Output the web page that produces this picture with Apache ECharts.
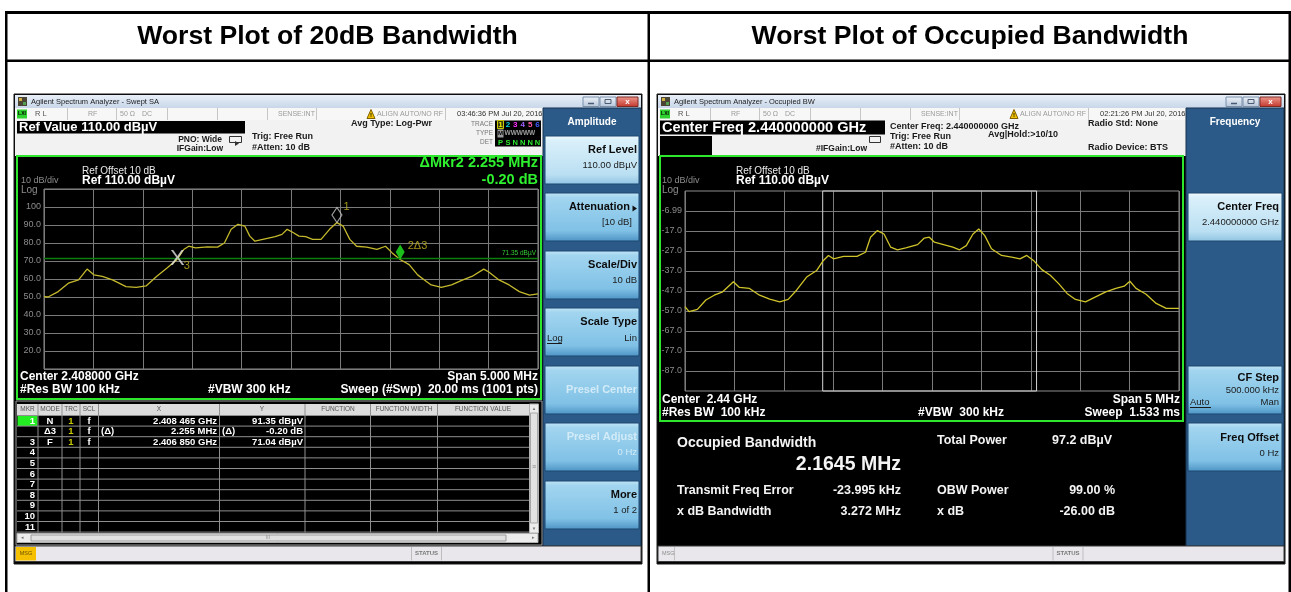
<!DOCTYPE html>
<html><head><meta charset="utf-8">
<script src="https://cdn.jsdelivr.net/npm/echarts@6/dist/echarts.min.js"></script>
<style>html,body{margin:0;padding:0;background:#fff;overflow:hidden}#c{width:1291px;height:592px}</style>
</head><body><div id="c"></div>
<script>
// ---------------- DATA ----------------
// Left: 20 dB bandwidth trace (frequency MHz, level dBµV)
const leftFreqMHz = [2405.500,2405.541,2405.644,2405.747,2405.850,2405.936,2406.004,2406.090,2406.193,2406.330,2406.433,2406.536,2406.639,2406.742,2406.850,2406.914,2406.965,2407.034,2407.154,2407.257,2407.326,2407.394,2407.463,2407.532,2407.583,2407.635,2407.737,2407.840,2407.909,2407.961,2408.012,2408.081,2408.149,2408.218,2408.304,2408.390,2408.465,2408.527,2408.595,2408.664,2408.767,2408.870,2408.956,2409.024,2409.105,2409.196,2409.282,2409.350,2409.419,2409.522,2409.625,2409.728,2409.831,2409.951,2410.002,2410.105,2410.208,2410.311,2410.414,2410.500];
const leftLevel = [50.2,50.0,53.0,57.7,59.5,65.5,62.3,61.4,59.5,55.8,55.4,56.2,61.4,66.0,71.0,76.4,78.2,77.3,77.9,77.7,80.0,87.6,90.4,89.4,83.8,81.0,82.3,83.5,84.8,87.6,86.1,83.8,83.5,82.0,82.0,87.6,91.35,89.4,82.0,78.2,77.7,76.4,78.2,74.5,70.84,68.0,62.3,59.5,56.7,55.4,56.7,59.2,61.4,65.5,63.9,59.5,56.7,53.0,51.1,51.7];
const leftYTickValues = [100,90,80,70,60,50,40,30,20];
const leftYTickLabels = ['100','90.0','80.0','70.0','60.0','50.0','40.0','30.0','20.0'];
const markerNames = ['1','2\u03943','3'];
const markerFreqMHz = [2408.465, 2409.105, 2406.850];
const markerLevel = [91.35, 70.84, 71.04];
const displayLineLevel = 71.35;

// Right: occupied bandwidth trace (frequency MHz, level as displayed)
const rightFreqMHz = [2437.500,2437.541,2437.626,2437.711,2437.796,2437.881,2437.990,2438.051,2438.153,2438.255,2438.357,2438.459,2438.544,2438.629,2438.731,2438.833,2438.901,2438.952,2439.003,2439.105,2439.241,2439.327,2439.378,2439.446,2439.514,2439.582,2439.650,2439.735,2439.854,2439.922,2439.973,2440.024,2440.126,2440.211,2440.279,2440.347,2440.415,2440.473,2440.534,2440.602,2440.704,2440.806,2440.891,2440.959,2441.027,2441.112,2441.197,2441.282,2441.367,2441.452,2441.554,2441.656,2441.759,2441.861,2441.946,2442.003,2442.065,2442.167,2442.269,2442.371,2442.500];
const rightLevel = [-54.8,-57.3,-56.2,-51.5,-49.1,-47.4,-42.4,-45.2,-45.7,-49.1,-51.0,-52.4,-51.2,-46.6,-40.0,-36.7,-31.7,-29.2,-30.9,-29.7,-29.7,-27.6,-20.1,-16.8,-18.5,-25.1,-26.4,-25.4,-23.8,-20.5,-20.1,-22.6,-23.9,-25.1,-26.4,-24.3,-18.5,-16.0,-19.3,-25.9,-29.2,-30.0,-30.9,-29.2,-31.7,-36.3,-39.1,-43.3,-48.2,-51.2,-52.4,-49.9,-47.4,-45.7,-44.6,-42.1,-45.7,-48.6,-53.2,-55.7,-55.7];
const rightYMin = -96.99, rightYMax = 3.01;
const rightYTickValues = [-6.99,-16.99,-26.99,-36.99,-46.99,-56.99,-66.99,-76.99,-86.99];
const rightYTickLabels = ['-6.99','-17.0','-27.0','-37.0','-47.0','-57.0','-67.0','-77.0','-87.0'];
const rightCenterMHz = 2440.0, obwMHz = 2.1645, freqErrorMHz = -0.023995;

const markerTableRows = [
  ['1','N','1','f','','2.408 465 GHz','','91.35 dB\u00b5V'],
  ['2','\u03943','1','f','(\u0394)','2.255 MHz','(\u0394)','-0.20 dB'],
  ['3','F','1','f','','2.406 850 GHz','','71.04 dB\u00b5V']
];

// ---------------- DRAW HELPERS ----------------
const FF = '"Liberation Sans", Arial, Helvetica, sans-serif';
const G = [];
let zc = 0;
function R(x,y,w,h,fill,stroke,lw,z){G.push({type:'rect',silent:true,z:z==null?-5:z,z2:zc++,shape:{x:x,y:y,width:w,height:h},style:{fill:fill||'rgba(0,0,0,0)',stroke:stroke||'rgba(0,0,0,0)',lineWidth:stroke?(lw||1):0}});}
function L(x1,y1,x2,y2,stroke,lw,z){G.push({type:'line',silent:true,z:z==null?-5:z,z2:zc++,shape:{x1:x1,y1:y1,x2:x2,y2:y2},style:{stroke:stroke,lineWidth:lw||1}});}
function P(pts,fill,stroke,z){G.push({type:'polygon',silent:true,z:z==null?-5:z,z2:zc++,shape:{points:pts},style:{fill:fill,stroke:stroke||'rgba(0,0,0,0)',lineWidth:stroke?1:0}});}
function T(x,y,s,size,color,o){o=o||{};G.push({type:'text',silent:true,z:o.z==null?10:o.z,z2:zc++,x:x,y:y,style:{text:s,fill:color,fontSize:size,fontWeight:o.b?'bold':'normal',fontFamily:FF,textAlign:o.a||'left',textVerticalAlign:'middle',align:o.a||'left',verticalAlign:'middle'}});}
function grad(stops){return {type:'linear',x:0,y:0,x2:0,y2:1,colorStops:stops.map(s=>({offset:s[0],color:s[1]}))};}

// ---------------- PAGE TABLE ----------------
R(5,11,1286,3,'#000');
R(5,11,2.5,581,'#000');
R(5,59.5,1286,2.5,'#000');
R(647.5,11,2.5,581,'#000');
R(1288.5,11,2.5,581,'#000');
T(327.5,37,'Worst Plot of 20dB Bandwidth',26.6,'#000',{b:1,a:'center'});
T(970,37,'Worst Plot of Occupied Bandwidth',26.6,'#000',{b:1,a:'center'});

// ---------------- SHARED INSTRUMENT CHROME ----------------
function screen(dx,title,date,msgYellow,statusX){
  R(14+dx,94,628,470,'#000','#1a1a1a',1);
  R(15+dx,95,626,13,grad([[0,'#e8eff8'],[1,'#c8d7e9']]));
  R(18+dx,97,9,9,'#4a4535'); R(19+dx,98,3,3,'#d0b040'); R(23+dx,102,3,3,'#50a050');
  T(31+dx,101.5,title,7.5,'#1c1c1c');
  R(583+dx,97,16,9.5,grad([[0,'#eef2f8'],[1,'#b6c6da']]),'#7990ab');
  L(588+dx,103.5,594+dx,103.5,'#4a5a70',1.5,-4);
  R(600+dx,97,16,9.5,grad([[0,'#eef2f8'],[1,'#b6c6da']]),'#7990ab');
  R(605+dx,99.5,6,4,'rgba(0,0,0,0)','#4a5a70',1);
  R(617+dx,97,21,9.5,grad([[0,'#ee9a90'],[1,'#c2362b']]),'#7d2a22');
  T(627.5+dx,101.5,'x',8,'#fff',{b:1,a:'center'});
  R(15+dx,108,528,12,'#f7f7f7');
  [67,116,167,217,267,316,445].forEach(x=>L(x+dx+0.5,108,x+dx+0.5,120,'#c6c6c6',1,-4));
  R(17+dx,109.5,10,9,'#2fd12f'); T(22+dx,114,'LXI',5,'#000',{b:1,a:'center'});
  T(35+dx,114,'R L',7.5,'#555');
  T(88+dx,114,'RF',7,'#9a9a9a'); T(120+dx,114,'50 \u03a9',7,'#9a9a9a'); T(142+dx,114,'DC',7,'#9a9a9a');
  T(278+dx,114,'SENSE:INT',7,'#9a9a9a');
  P([[367+dx,118.5],[371+dx,109.5],[375+dx,118.5]],'#f0c000','#806000',-4);
  T(371+dx,115.5,'!',6,'#000',{b:1,a:'center'});
  T(377+dx,114,'ALIGN AUTO/NO RF',7,'#9a9a9a');
  T(457+dx,114,date,7.5,'#333');
  R(15+dx,120,528,36,'#f2f2f2');
  R(543+dx,108,98,438,'#2c5a88','#17324f',1);
  R(15+dx,546,626,15.5,'#e9e7eb','#3a3a3a',1);
  if(msgYellow){R(16+dx,547,20,13.5,'#f4c000');T(26+dx,553.5,'MSG',5.5,'#6a5000',{a:'center'});}
  else{T(662,553.5,'MSG',5.5,'#8a8a8a');L(674.5,547,674.5,560.5,'#c0c0c0',1,-4);}
  L(statusX-15,547,statusX-15,560.5,'#bdbdbd',1,-4);
  L(statusX+15,547,statusX+15,560.5,'#bdbdbd',1,-4);
  T(statusX,553.5,'STATUS',6,'#777',{b:1,a:'center'});
}
function key(x,y,w,h,light){
  R(x,y,w,h,light?grad([[0,'#f2fafd'],[0.1,'#daf0fa'],[0.8,'#badff2'],[1,'#8fc3e2']]):grad([[0,'#c4e6f7'],[0.1,'#a2d5ef'],[0.78,'#80c1e6'],[1,'#4d94c4']]),'#1d4670',1);
}
const slots=[136,193,251,308,366,423,481];

// ---------------- LEFT SCREEN ----------------
screen(0,'Agilent Spectrum Analyzer - Swept SA','03:46:36 PM Jul 20, 2016',true,426.5);
R(17,121,228,12.5,'#000');
T(19,127.5,'Ref Value 110.00 dB\u00b5V',13,'#fff',{b:1});
T(222,139.5,'PNO: Wide',8.5,'#1a1a1a',{b:1,a:'right'});
T(223,148.5,'IFGain:Low',8.5,'#1a1a1a',{b:1,a:'right'});
R(229.5,136.5,12,6,'rgba(0,0,0,0)','#333',1);
P([[235,141],[239,143.5],[235,146]],'#333',null,-4);
T(252,137,'Trig: Free Run',9,'#1a1a1a',{b:1});
T(252,147.5,'#Atten: 10 dB',9,'#1a1a1a',{b:1});
T(351,124,'Avg Type: Log-Pwr',9,'#1a1a1a',{b:1});
T(493,124.5,'TRACE',6.5,'#777',{a:'right'});
T(493,133.5,'TYPE',6.5,'#777',{a:'right'});
T(493,142.5,'DET',6.5,'#777',{a:'right'});
R(495,120.5,46,26,'#000');
R(497.5,120.5,6,8,'#3a3a10','#c8c800',1);
[['1','#e8e800'],['2','#00d8e8'],['3','#ff30ff'],['4','#a060ff'],['5','#ff5aa8'],['6','#4060ff']].forEach((d,i)=>T(500.5+i*7.4,124.5,d[0],8,d[1],{b:1,a:'center'}));
R(497.5,129.5,6,8,'#9a9a9a');
T(500.5,133.5,'M',6,'#000',{b:1,a:'center'});
T(504.5,133.5,'WWWWW',6.5,'#a0a0a0',{b:1});
['P','S','N','N','N','N'].forEach((c,i)=>T(500.5+i*7.4,142.5,c,7.5,'#2ee82e',{b:1,a:'center'}));
// plot frame
R(17,156,524,243,'#000','#2ee62e',2);
T(21,180.5,'10 dB/div',9,'#8c8c8c');
T(21,190,'Log',10,'#8c8c8c');
T(82,171,'Ref Offset 10 dB',10,'#e8e8e8');
T(82,181,'Ref 110.00 dB\u00b5V',12,'#fff',{b:1});
T(538,163,'\u0394Mkr2 2.255 MHz',14.5,'#2ef02e',{b:1,a:'right'});
T(538,179.5,'-0.20 dB',14.5,'#2ef02e',{b:1,a:'right'});
T(20,376.5,'Center 2.408000 GHz',12,'#fff',{b:1});
T(538,376.5,'Span 5.000 MHz',12,'#fff',{b:1,a:'right'});
T(20,389.5,'#Res BW 100 kHz',12,'#fff',{b:1});
T(208,389.5,'#VBW 300 kHz',12,'#fff',{b:1});
T(538,389.5,'Sweep (#Swp)  20.00 ms (1001 pts)',12,'#fff',{b:1,a:'right'});
// marker table
R(16,401,526,144,'#000','#a0a0a0',1);
R(17,404,512,11.5,'#dcdcdc');
const colX=[38,62,80,98.5,219.5,305,370.5,437.5];
colX.forEach(x=>L(x,404,x,532.5,'#8f8f8f',1,-4));
for(let i=0;i<=11;i++){const y=415.5+i*10.6;L(17,y,529,y,'#8f8f8f',1,-4);}
[['MKR',27.5],['MODE',50],['TRC',71],['SCL',89],['X',159],['Y',262],['FUNCTION',338],['FUNCTION WIDTH',404],['FUNCTION VALUE',483]].forEach(h=>T(h[1],409.5,h[0],6.5,'#555',{a:'center'}));
R(17.5,416,20,10,'#22ee22');
for(let i=0;i<11;i++){
  const y=421+i*10.6;
  T(35,y,String(i+1),9.5,i===1?'#000':'#fff',{b:1,a:'right'});
  const r=markerTableRows[i];
  if(r){
    T(50,y,r[1],9.5,'#fff',{b:1,a:'center'});
    T(71,y,r[2],9.5,'#c8c800',{b:1,a:'center'});
    T(89,y,r[3],9.5,'#fff',{b:1,a:'center'});
    if(r[4])T(101,y,r[4],9.5,'#fff',{b:1});
    T(217,y,r[5],9.5,'#fff',{b:1,a:'right'});
    if(r[6])T(222,y,r[6],9.5,'#fff',{b:1});
    T(303,y,r[7],9.5,'#fff',{b:1,a:'right'});
  }
}
R(529.5,404,9,129,'#ececec','#b0b0b0',1);
R(530.5,413,7,110,'#e2e2e2','#a8a8a8',1);
T(534,408.5,'\u25b2',4.5,'#777',{a:'center'});
T(534,528.5,'\u25bc',4.5,'#777',{a:'center'});
T(534,467,'\u2261',7,'#888',{a:'center'});
R(17,533.5,521,9,'#ececec','#b0b0b0',1);
R(31,535,475,6,'#e0e0e0','#9c9c9c',1);
T(22,538,'\u25c2',5,'#777',{a:'center'});
T(533,538,'\u25b8',5,'#777',{a:'center'});
T(268,538,'III',4.5,'#888',{a:'center'});
// left softkeys
T(592,122,'Amplitude',10,'#fff',{b:1,a:'center'});
slots.forEach((y,i)=>key(545,y,94,48,i===0));
T(637,slots[0]+14,'Ref Level',11,'#0c0c0c',{b:1,a:'right'});
T(637,slots[0]+29,'110.00 dB\u00b5V',9.5,'#1a1a1a',{a:'right'});
T(630,slots[1]+14,'Attenuation',11,'#0c0c0c',{b:1,a:'right'});
P([[632.5,slots[1]+12.5],[632.5,slots[1]+18.5],[637,slots[1]+15.5]],'#111',null,-4);
T(632,slots[1]+29,'[10 dB]',9.5,'#1a1a1a',{a:'right'});
T(637,slots[2]+14,'Scale/Div',11,'#0c0c0c',{b:1,a:'right'});
T(637,slots[2]+29,'10 dB',9.5,'#1a1a1a',{a:'right'});
T(637,slots[3]+14,'Scale Type',11,'#0c0c0c',{b:1,a:'right'});
T(547,slots[3]+30,'Log',9.5,'#1a1a1a');
L(547,slots[3]+35.5,562,slots[3]+35.5,'#1a1a1a',1,-4);
T(637,slots[3]+30,'Lin',9.5,'#1a1a1a',{a:'right'});
T(637,slots[4]+24,'Presel Center',11,'#d3ebf7',{b:1,a:'right'});
T(637,slots[5]+14,'Presel Adjust',11,'#d3ebf7',{b:1,a:'right'});
T(637,slots[5]+29,'0 Hz',9.5,'#d3ebf7',{a:'right'});
T(637,slots[6]+14,'More',11,'#0c0c0c',{b:1,a:'right'});
T(637,slots[6]+29,'1 of 2',9.5,'#1a1a1a',{a:'right'});

// ---------------- RIGHT SCREEN ----------------
const dx=643;
screen(dx,'Agilent Spectrum Analyzer - Occupied BW','02:21:26 PM Jul 20, 2016',false,1068);
R(660,120.5,225,14,'#000');
T(662,127.5,'Center Freq 2.440000000 GHz',14.6,'#fff',{b:1});
R(660,136,52,19,'#000');
T(867,149,'#IFGain:Low',8.5,'#1a1a1a',{b:1,a:'right'});
R(869.5,136.5,11,6,'rgba(0,0,0,0)','#333',1);
T(890,127,'Center Freq: 2.440000000 GHz',9,'#1a1a1a',{b:1});
T(890,137,'Trig: Free Run',9,'#1a1a1a',{b:1});
T(890,147,'#Atten: 10 dB',9,'#1a1a1a',{b:1});
T(988,135,'Avg|Hold:>10/10',9,'#1a1a1a',{b:1});
T(1088,123.5,'Radio Std: None',9,'#1a1a1a',{b:1});
T(1088,147.5,'Radio Device: BTS',9,'#1a1a1a',{b:1});
R(660,156,523,265,'#000','#2ee62e',2);
T(662,180.5,'10 dB/div',9,'#8c8c8c');
T(662,190,'Log',10,'#8c8c8c');
T(736,171,'Ref Offset 10 dB',10,'#e8e8e8');
T(736,181,'Ref 110.00 dB\u00b5V',12,'#fff',{b:1});
T(662,400,'Center  2.44 GHz',12,'#fff',{b:1});
T(1180,400,'Span 5 MHz',12,'#fff',{b:1,a:'right'});
T(662,413,'#Res BW  100 kHz',12,'#fff',{b:1});
T(918,413,'#VBW  300 kHz',12,'#fff',{b:1});
T(1180,413,'Sweep  1.533 ms',12,'#fff',{b:1,a:'right'});
R(659,423,525,122,'#000');
T(677,443,'Occupied Bandwidth',14,'#f4f4f4',{b:1});
T(901,465,'2.1645 MHz',19.5,'#f4f4f4',{b:1,a:'right'});
T(937,440.5,'Total Power',12.5,'#f4f4f4',{b:1});
T(1052,440.5,'97.2 dB\u00b5V',12.5,'#f4f4f4',{b:1});
T(677,490.5,'Transmit Freq Error',12.5,'#f4f4f4',{b:1});
T(901,490.5,'-23.995 kHz',12.5,'#f4f4f4',{b:1,a:'right'});
T(937,490.5,'OBW Power',12.5,'#f4f4f4',{b:1});
T(1115,490.5,'99.00 %',12.5,'#f4f4f4',{b:1,a:'right'});
T(677,511.5,'x dB Bandwidth',12.5,'#f4f4f4',{b:1});
T(901,511.5,'3.272 MHz',12.5,'#f4f4f4',{b:1,a:'right'});
T(937,511.5,'x dB',12.5,'#f4f4f4',{b:1});
T(1115,511.5,'-26.00 dB',12.5,'#f4f4f4',{b:1,a:'right'});
T(1235,122,'Frequency',10,'#fff',{b:1,a:'center'});
key(1188,slots[1],94,48,true);
T(1279,slots[1]+14,'Center Freq',11,'#0c0c0c',{b:1,a:'right'});
T(1279,slots[1]+29,'2.440000000 GHz',9.5,'#1a1a1a',{a:'right'});
key(1188,slots[4],94,48,false);
T(1279,slots[4]+12,'CF Step',11,'#0c0c0c',{b:1,a:'right'});
T(1279,slots[4]+24,'500.000 kHz',9.5,'#1a1a1a',{a:'right'});
T(1190,slots[4]+36,'Auto',9.5,'#1a1a1a');
L(1190,slots[4]+41.5,1211,slots[4]+41.5,'#1a1a1a',1,-4);
T(1279,slots[4]+36,'Man',9.5,'#1a1a1a',{a:'right'});
key(1188,slots[5],94,48,false);
T(1279,slots[5]+15,'Freq Offset',11,'#0c0c0c',{b:1,a:'right'});
T(1279,slots[5]+30,'0 Hz',9.5,'#1a1a1a',{a:'right'});

// ---------------- CHART ----------------
function tickLabel(vals,labels,v){for(let i=0;i<vals.length;i++){if(Math.abs(vals[i]-v)<1e-6)return labels[i];}return '';}
const GRIDC='#7a7a7a';
const axisCommon={axisTick:{show:false},axisLine:{show:false},splitLine:{show:true,lineStyle:{color:GRIDC,width:1}}};
const obwLo=rightCenterMHz+freqErrorMHz-obwMHz/2, obwHi=rightCenterMHz+freqErrorMHz+obwMHz/2;
const YEL='#c8b820';
const option={
  animation:false,
  backgroundColor:'#ffffff',
  graphic:{elements:G},
  grid:[
    {left:44,top:189,width:494,height:180,show:true,backgroundColor:'rgba(0,0,0,0)',borderColor:'#8c8c8c',borderWidth:1},
    {left:685,top:191,width:494,height:200,show:true,backgroundColor:'rgba(0,0,0,0)',borderColor:'#8c8c8c',borderWidth:1}
  ],
  xAxis:[
    Object.assign({gridIndex:0,type:'value',min:2405.5,max:2410.5,interval:0.5,axisLabel:{show:false}},axisCommon),
    Object.assign({gridIndex:1,type:'value',min:2437.5,max:2442.5,interval:0.5,axisLabel:{show:false}},axisCommon)
  ],
  yAxis:[
    Object.assign({gridIndex:0,type:'value',min:10,max:110,interval:10,
      axisLabel:{show:true,margin:3,color:'#8c8c8c',fontSize:9,fontFamily:FF,formatter:v=>tickLabel(leftYTickValues,leftYTickLabels,v)}},axisCommon),
    {gridIndex:1,type:'value',min:rightYMin,max:rightYMax,
      axisTick:{show:false,customValues:rightYTickValues},axisLine:{show:false},
      splitLine:{show:true,lineStyle:{color:GRIDC,width:1}},
      axisLabel:{show:true,customValues:rightYTickValues,margin:3,color:'#8c8c8c',fontSize:9,fontFamily:FF,formatter:v=>tickLabel(rightYTickValues,rightYTickLabels,v)}}
  ],
  series:[
    {type:'line',xAxisIndex:0,yAxisIndex:0,z:3,symbol:'none',silent:true,
      data:leftFreqMHz.map((f,i)=>[f,leftLevel[i]]),
      lineStyle:{color:'#c4b92c',width:1.3},
      markLine:{silent:true,symbol:'none',animation:false,
        lineStyle:{color:'#0d7d0d',width:1.3,type:'solid'},
        label:{show:true,position:'insideEndTop',distance:2,formatter:displayLineLevel.toFixed(2)+' dB\u00b5V',color:'#33cc33',fontSize:6.5,fontFamily:FF},
        data:[{yAxis:displayLineLevel}]}},
    {type:'scatter',xAxisIndex:0,yAxisIndex:0,z:5,silent:true,
      data:[
        {value:[markerFreqMHz[0],markerLevel[0]],symbol:'diamond',symbolSize:[10,15],symbolOffset:[0,-7.5],
          itemStyle:{color:'rgba(0,0,0,0)',borderColor:'#c4c4c4',borderWidth:1.2},
          label:{show:true,position:'right',distance:1,offset:[0,-8],formatter:markerNames[0],color:YEL,fontSize:11,fontFamily:FF}},
        {value:[markerFreqMHz[1],markerLevel[1]],symbol:'diamond',symbolSize:[9,15],symbolOffset:[0,-7.5],
          itemStyle:{color:'#22ee22'},
          label:{show:true,position:'right',distance:3,offset:[0,-6],formatter:markerNames[1],color:YEL,fontSize:11,fontFamily:FF}},
        {value:[markerFreqMHz[2],markerLevel[2]],symbol:'circle',symbolSize:2,itemStyle:{color:'rgba(0,0,0,0)'},
          label:{show:true,position:'inside',formatter:'X',color:'#e4e4e4',fontSize:22,fontFamily:FF}},
        {value:[markerFreqMHz[2],markerLevel[2]],symbol:'circle',symbolSize:2,itemStyle:{color:'rgba(0,0,0,0)'},
          label:{show:true,position:'inside',offset:[9.5,6.5],formatter:markerNames[2],color:YEL,fontSize:11,fontFamily:FF}}
      ]},
    {type:'line',xAxisIndex:1,yAxisIndex:1,z:3,symbol:'none',silent:true,
      data:rightFreqMHz.map((f,i)=>[f,rightLevel[i]]),
      lineStyle:{color:'#cfc42a',width:1.3},
      markArea:{silent:true,itemStyle:{color:'rgba(0,0,0,0)',borderColor:'#d4d4d4',borderWidth:1},
        data:[[{xAxis:obwLo,yAxis:rightYMax},{xAxis:obwHi,yAxis:rightYMin}]]}}
  ]
};
const chart=echarts.init(document.getElementById('c'),null,{renderer:'canvas'});
chart.setOption(option);
</script></body></html>
